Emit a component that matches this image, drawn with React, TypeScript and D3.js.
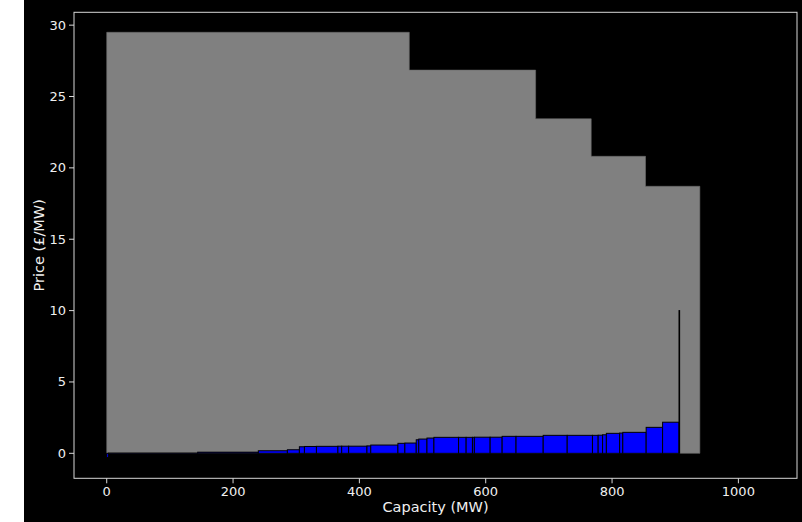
import React from "react";
import * as d3 from "d3";

// Demand (grey) steps
const demandCapacity = [479, 200, 88, 86, 86];
const demandPrice = [29.5, 26.85, 23.44, 20.81, 18.71];

// Supply bids (blue), sorted by price
const bidCapacity = [3, 141, 96, 46, 19, 8, 19, 34, 6, 11, 29, 6, 43, 11, 18, 4, 13, 11, 39, 12, 10, 3, 25, 19, 22, 43, 38, 40, 9, 7, 6, 21, 5, 37, 26, 26, 1];
const bidPrice = [-0.3, 0.02, 0.08, 0.18, 0.25, 0.46, 0.48, 0.49, 0.5, 0.5, 0.5, 0.52, 0.58, 0.7, 0.72, 0.95, 1.0, 1.07, 1.12, 1.12, 1.12, 1.12, 1.13, 1.13, 1.19, 1.19, 1.26, 1.26, 1.26, 1.27, 1.3, 1.4, 1.42, 1.47, 1.82, 2.18, 10];

const xTicks = [0, 200, 400, 600, 800, 1000];
const yTicks = [0, 5, 10, 15, 20, 25, 30];

const W = 802;
const H = 522;
const left = 74, right = 797, top = 12.3, bottom = 478.3;

function cumStarts(caps: number[]) {
  const s: number[] = [];
  let acc = 0;
  caps.forEach((c) => { s.push(acc); acc += c; });
  return s;
}

export default function App() {
  const x = d3.scaleLinear().domain([-51.8, 1092.8]).range([left, right]);
  const y = d3.scaleLinear().domain([-1.75, 30.9]).range([bottom, top]);
  const dStarts = cumStarts(demandCapacity);
  const bStarts = cumStarts(bidCapacity);
  const font = "DejaVu Sans, sans-serif";
  const txt = "#f0f0f0";
  const bar = (x0: number, w: number, p: number) => {
    const y0 = y(0), y1 = y(p);
    return { x: x(x0), width: x(x0 + w) - x(x0), y: Math.min(y0, y1), height: Math.abs(y1 - y0) };
  };
  const demandPts: [number, number][] = demandCapacity.map((c, i) => [dStarts[i], demandPrice[i]]);
  const last = demandCapacity.length - 1;
  demandPts.push([dStarts[last] + demandCapacity[last], demandPrice[last]]);
  const area = d3
    .area<[number, number]>()
    .x((d) => x(d[0]))
    .y0(y(0))
    .y1((d) => y(d[1]))
    .curve(d3.curveStepAfter);
  return (
    <svg width={W} height={H} style={{ position: "fixed", left: 0, top: 0, background: "white" }}>
      <rect x={24} y={0} width={W - 24} height={H} fill="black" />
      <defs>
        <clipPath id="plot"><rect x={left} y={top} width={right - left} height={bottom - top} /></clipPath>
      </defs>
      <g clipPath="url(#plot)">
        <path d={area(demandPts) || ""} fill="#808080" stroke="#6a6a6a" strokeWidth={0.6} />
        {bidCapacity.map((c, i) => {
          const b = bar(bStarts[i], c, bidPrice[i]);
          return <rect key={"b" + i} {...b} fill="#0000ff" stroke="black" strokeWidth={1} />;
        })}
      </g>
      <rect x={left} y={top} width={right - left} height={bottom - top} fill="none" stroke="#d8d8d8" strokeWidth={1} />
      {xTicks.map((t) => (
        <g key={"xt" + t}>
          <line x1={x(t)} x2={x(t)} y1={bottom} y2={bottom + 5} stroke="#d8d8d8" />
          <text x={x(t)} y={bottom + 17.5} textAnchor="middle" fontFamily={font} fontSize={13} fill={txt}>{t}</text>
        </g>
      ))}
      {yTicks.map((t) => (
        <g key={"yt" + t}>
          <line x1={left - 5} x2={left} y1={y(t)} y2={y(t)} stroke="#d8d8d8" />
          <text x={left - 8} y={y(t) + 4.5} textAnchor="end" fontFamily={font} fontSize={13} fill={txt}>{t}</text>
        </g>
      ))}
      <text x={(left + right) / 2} y={512} textAnchor="middle" fontFamily={font} fontSize={14.5} fill={txt}>Capacity (MW)</text>
      <text transform={`translate(44,${(top + bottom) / 2}) rotate(-90)`} textAnchor="middle" fontFamily={font} fontSize={14.5} fill={txt}>Price (£/MW)</text>
    </svg>
  );
}
